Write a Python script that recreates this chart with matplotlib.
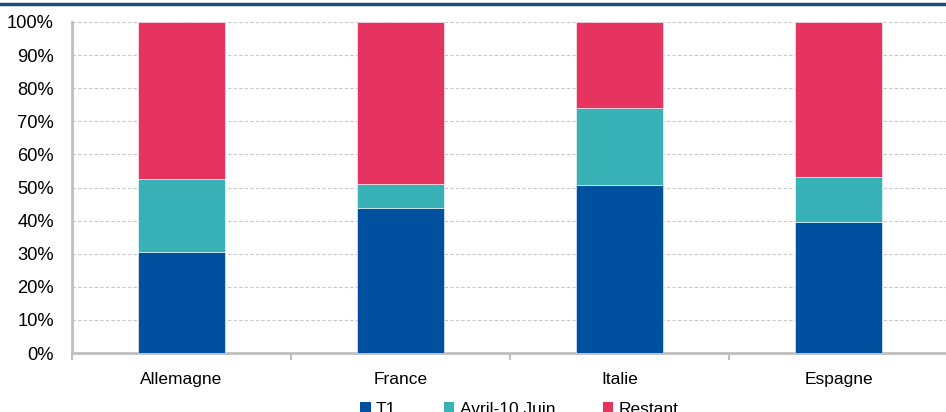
import matplotlib
matplotlib.use("Agg")
import matplotlib.pyplot as plt
from matplotlib.patches import Patch
from matplotlib.lines import Line2D
from matplotlib.ticker import PercentFormatter, FixedLocator, NullFormatter

plt.rcParams['font.family'] = ['Liberation Sans', 'DejaVu Sans']

countries = ["Allemagne", "France", "Italie", "Espagne"]
t1 = [30.5, 43.7, 50.8, 39.6]
avril_10_juin = [22.1, 7.4, 23.2, 13.6]
restant = [47.4, 48.9, 26.0, 46.8]
series_labels = ["T1", "Avril-10 Juin", "Restant"]
colors = ["#0050a0", "#38b2b6", "#e63461"]

W, H = 946, 412
fig = plt.figure(figsize=(W / 100, H / 100), dpi=100)
ax = fig.add_axes([72 / W, (H - 353) / H, (948 - 72) / W, (353 - 22) / H])

x = list(range(len(countries)))
width = 0.4
bottom = [0.0] * len(countries)
for vals, col in zip([t1, avril_10_juin, restant], colors):
    ax.bar(x, vals, width, bottom=bottom, color=col, edgecolor="#ffffff",
           linewidth=0.4, zorder=3)
    bottom = [b + v for b, v in zip(bottom, vals)]

ax.set_xlim(-0.5, len(countries) - 0.5)
ax.set_ylim(0, 100)
ax.yaxis.set_major_locator(FixedLocator(range(0, 101, 10)))
ax.yaxis.set_major_formatter(PercentFormatter(decimals=0))
ax.grid(axis="y", color="#c8c8c8", linestyle=(0, (3, 2)), linewidth=0.8, zorder=0)

# category boundaries as ticks, names centred between them
ax.xaxis.set_major_locator(FixedLocator([i - 0.5 for i in range(len(countries) + 1)]))
ax.xaxis.set_major_formatter(NullFormatter())
ax.set_xticks(x, minor=True)
ax.set_xticklabels(countries, minor=True)
ax.tick_params(axis="x", which="major", length=5, width=1.5, color="#bfbfbf", direction="out")
ax.tick_params(axis="x", which="minor", length=0, pad=14, labelsize=12.5)
ax.tick_params(axis="y", length=0, pad=13, labelsize=13.2)

for s in ["top", "right"]:
    ax.spines[s].set_visible(False)
for s in ["left", "bottom"]:
    ax.spines[s].set_color("#bfbfbf")
    ax.spines[s].set_linewidth(2)

handles = [Patch(facecolor=c, edgecolor="none") for c in colors]
fig.legend(handles, series_labels, loc="upper center", bbox_to_anchor=(0.549, (H - 402) / H),
           ncol=3, frameon=False, fontsize=12.5, handlelength=0.6, handleheight=0.6,
           handletextpad=0.3, columnspacing=2.75, borderpad=0, borderaxespad=0)

# thin rule across the top of the figure
fig.add_artist(Line2D([0, 1], [1 - 4 / H, 1 - 4 / H], transform=fig.transFigure,
                      color="#1b4f7c", linewidth=2.5))

fig.savefig("out.png", dpi=100)
